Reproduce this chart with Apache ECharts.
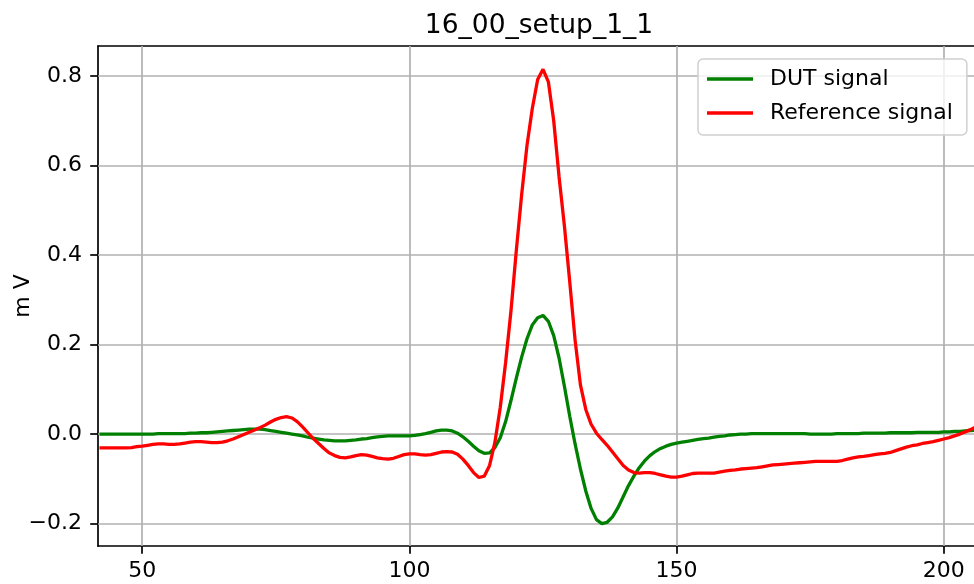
<!DOCTYPE html>
<html>
<head>
<meta charset="utf-8">
<script src="https://cdn.jsdelivr.net/npm/echarts@6/dist/echarts.min.js"></script>
<style>
  html, body { margin: 0; padding: 0; background: #ffffff; }
  #chart { width: 974px; height: 584px; }
</style>
</head>
<body>
<div id="chart"></div>
<script>
// Sample positions (sample index along the recording)
const sampleX = [
  42, 43, 44, 45, 46, 47, 48, 49, 50, 51, 52, 53, 54, 55, 56, 57, 58, 59, 60, 61,
  62, 63, 64, 65, 66, 67, 68, 69, 70, 71, 72, 73, 74, 75, 76, 77, 78, 79, 80, 81,
  82, 83, 84, 85, 86, 87, 88, 89, 90, 91, 92, 93, 94, 95, 96, 97, 98, 99, 100, 101,
  102, 103, 104, 105, 106, 107, 108, 109, 110, 111, 112, 113, 114, 115, 116, 117, 118, 119, 120, 121,
  122, 123, 124, 125, 126, 127, 128, 129, 130, 131, 132, 133, 134, 135, 136, 137, 138, 139, 140, 141,
  142, 143, 144, 145, 146, 147, 148, 149, 150, 151, 152, 153, 154, 155, 156, 157, 158, 159, 160, 161,
  162, 163, 164, 165, 166, 167, 168, 169, 170, 171, 172, 173, 174, 175, 176, 177, 178, 179, 180, 181,
  182, 183, 184, 185, 186, 187, 188, 189, 190, 191, 192, 193, 194, 195, 196, 197, 198, 199, 200, 201,
  202, 203, 204, 205, 206
];

// DUT signal in mV
const dutSignal = [
  0.000, 0.000, 0.000, 0.000, 0.000, 0.000, 0.000, 0.000, 0.000, 0.000, 0.000, 0.001, 0.001, 0.001, 0.001, 0.001, 0.001, 0.002, 0.002, 0.003,
  0.003, 0.004, 0.005, 0.006, 0.007, 0.008, 0.009, 0.010, 0.011, 0.011, 0.011, 0.010, 0.008, 0.006, 0.004, 0.002, 0.000, -0.002, -0.004, -0.007,
  -0.009, -0.011, -0.013, -0.014, -0.015, -0.015, -0.015, -0.014, -0.013, -0.011, -0.010, -0.008, -0.006, -0.005, -0.004, -0.004, -0.004, -0.004, -0.004, -0.003,
  -0.001, 0.001, 0.004, 0.007, 0.009, 0.009, 0.007, 0.002, -0.006, -0.016, -0.027, -0.037, -0.043, -0.042, -0.030, -0.008, 0.028, 0.075, 0.125, 0.172,
  0.213, 0.244, 0.260, 0.265, 0.252, 0.220, 0.170, 0.107, 0.040, -0.022, -0.078, -0.127, -0.166, -0.191, -0.200, -0.197, -0.185, -0.165, -0.140, -0.115,
  -0.094, -0.075, -0.060, -0.048, -0.039, -0.032, -0.027, -0.023, -0.020, -0.018, -0.016, -0.014, -0.012, -0.010, -0.009, -0.007, -0.005, -0.004, -0.002, -0.001,
  0.000, 0.000, 0.001, 0.001, 0.001, 0.001, 0.001, 0.001, 0.001, 0.001, 0.001, 0.001, 0.001, 0.000, 0.000, 0.000, 0.000, 0.000, 0.001, 0.001,
  0.001, 0.001, 0.001, 0.002, 0.002, 0.002, 0.002, 0.002, 0.003, 0.003, 0.003, 0.003, 0.003, 0.004, 0.004, 0.004, 0.004, 0.004, 0.005, 0.005,
  0.006, 0.006, 0.007, 0.008, 0.009
];

// Reference signal in mV
const referenceSignal = [
  -0.031, -0.031, -0.031, -0.031, -0.031, -0.031, -0.030, -0.028, -0.027, -0.025, -0.023, -0.022, -0.022, -0.023, -0.023, -0.022, -0.020, -0.018, -0.017, -0.017,
  -0.018, -0.019, -0.019, -0.018, -0.015, -0.011, -0.006, -0.001, 0.004, 0.009, 0.014, 0.020, 0.027, 0.033, 0.037, 0.039, 0.036, 0.028, 0.016, 0.003,
  -0.010, -0.021, -0.032, -0.042, -0.048, -0.052, -0.053, -0.051, -0.048, -0.046, -0.047, -0.050, -0.053, -0.055, -0.056, -0.054, -0.050, -0.046, -0.044, -0.044,
  -0.046, -0.047, -0.046, -0.043, -0.040, -0.039, -0.040, -0.045, -0.056, -0.070, -0.086, -0.097, -0.094, -0.070, -0.018, 0.060, 0.160, 0.275, 0.410, 0.535,
  0.645, 0.728, 0.792, 0.815, 0.787, 0.700, 0.575, 0.465, 0.340, 0.210, 0.110, 0.055, 0.022, 0.002, -0.012, -0.025, -0.040, -0.055, -0.070, -0.080,
  -0.086, -0.087, -0.086, -0.086, -0.088, -0.091, -0.094, -0.096, -0.096, -0.094, -0.091, -0.088, -0.087, -0.087, -0.087, -0.087, -0.085, -0.083, -0.081, -0.080,
  -0.078, -0.077, -0.076, -0.075, -0.073, -0.071, -0.069, -0.068, -0.067, -0.066, -0.065, -0.064, -0.063, -0.062, -0.061, -0.061, -0.061, -0.061, -0.061, -0.059,
  -0.056, -0.053, -0.051, -0.050, -0.048, -0.046, -0.044, -0.043, -0.041, -0.037, -0.033, -0.029, -0.026, -0.024, -0.021, -0.019, -0.017, -0.014, -0.011, -0.008,
  -0.004, 0.000, 0.005, 0.010, 0.016
];

const xTicks = [50, 100, 150, 200];
const yTicks = [-0.2, 0.0, 0.2, 0.4, 0.6, 0.8];
const seriesNames = ['DUT signal', 'Reference signal'];
const chartTitle = '16_00_setup_1_1';
const yAxisName = 'm V';

const FONT = 'DejaVu Sans';
const GRID_COLOR = '#b0b0b0';

function pairs(xs, ys) {
  return xs.map((x, i) => [x, ys[i]]);
}

function fmtY(v) {
  const s = Math.abs(v).toFixed(1);
  return v < -1e-9 ? '\u2212' + s : s;
}

const chart = echarts.init(document.getElementById('chart'), null, { renderer: 'canvas' });

const option = {
  animation: false,
  backgroundColor: '#ffffff',
  title: {
    text: chartTitle,
    left: 534,
    top: 8,
    textAlign: 'center',
    textStyle: { fontFamily: FONT, fontSize: 26.5, fontWeight: 'normal', color: '#000000' }
  },
  legend: {
    orient: 'vertical',
    left: 698,
    top: 59,
    icon: 'rect',
    itemWidth: 46,
    itemHeight: 3.3,
    itemGap: 10,
    padding: [8, 14, 10, 9],
    backgroundColor: 'rgba(255,255,255,0.8)',
    borderColor: '#d0d0d0',
    borderWidth: 1.5,
    borderRadius: 5,
    textStyle: {
      fontFamily: FONT,
      fontSize: 22,
      color: '#000000',
      lineHeight: 24,
      padding: [0, 0, 0, 12]
    },
    data: seriesNames
  },
  grid: {
    left: 98,
    right: -4,
    top: 46,
    bottom: 38,
    containLabel: false,
    outerBoundsMode: 'none'
  },
  xAxis: [
    {
      type: 'value',
      position: 'bottom',
      min: 41.72,
      max: 206.4,
      axisLine: { show: true, onZero: false, lineStyle: { color: '#000000', width: 1.7 } },
      axisTick: { show: true, length: 7.8, customValues: xTicks, lineStyle: { color: '#000000', width: 1.7 } },
      axisLabel: {
        show: true,
        customValues: xTicks,
        margin: 14,
        fontFamily: FONT,
        fontSize: 22,
        color: '#000000'
      },
      splitLine: { show: false }
    },
    {
      type: 'value',
      position: 'top',
      min: 41.72,
      max: 206.4,
      axisLine: { show: true, onZero: false, lineStyle: { color: '#000000', width: 1.7 } },
      axisTick: { show: false },
      axisLabel: { show: false },
      splitLine: { show: false }
    }
  ],
  yAxis: {
    type: 'value',
    min: -0.25,
    max: 0.867,
    name: yAxisName,
    nameLocation: 'middle',
    nameGap: 64,
    nameRotate: 90,
    nameMoveOverlap: false,
    nameTextStyle: { fontFamily: FONT, fontSize: 22, color: '#000000' },
    axisLine: { show: true, onZero: false, lineStyle: { color: '#000000', width: 1.7 } },
    axisTick: { show: true, length: 7.8, customValues: yTicks, lineStyle: { color: '#000000', width: 1.7 } },
    axisLabel: {
      show: true,
      customValues: yTicks,
      margin: 16,
      fontFamily: FONT,
      fontSize: 22,
      color: '#000000',
      formatter: fmtY
    },
    splitLine: { show: false }
  },
  series: [
    {
      name: seriesNames[0],
      type: 'line',
      data: pairs(sampleX, dutSignal),
      showSymbol: false,
      symbol: 'none',
      color: '#008000',
      lineStyle: { color: '#008000', width: 3.3 },
      z: 3,
      markLine: {
        silent: true,
        symbol: 'none',
        label: { show: false },
        animation: false,
        lineStyle: { color: GRID_COLOR, width: 1.7, type: 'solid' },
        z: 1,
        data: xTicks.map(v => ({ xAxis: v })).concat(yTicks.map(v => ({ yAxis: v })))
      }
    },
    {
      name: seriesNames[1],
      type: 'line',
      data: pairs(sampleX, referenceSignal),
      showSymbol: false,
      symbol: 'none',
      color: '#ff0000',
      lineStyle: { color: '#ff0000', width: 3.3 },
      z: 4
    }
  ]
};

chart.setOption(option);
</script>
</body>
</html>
